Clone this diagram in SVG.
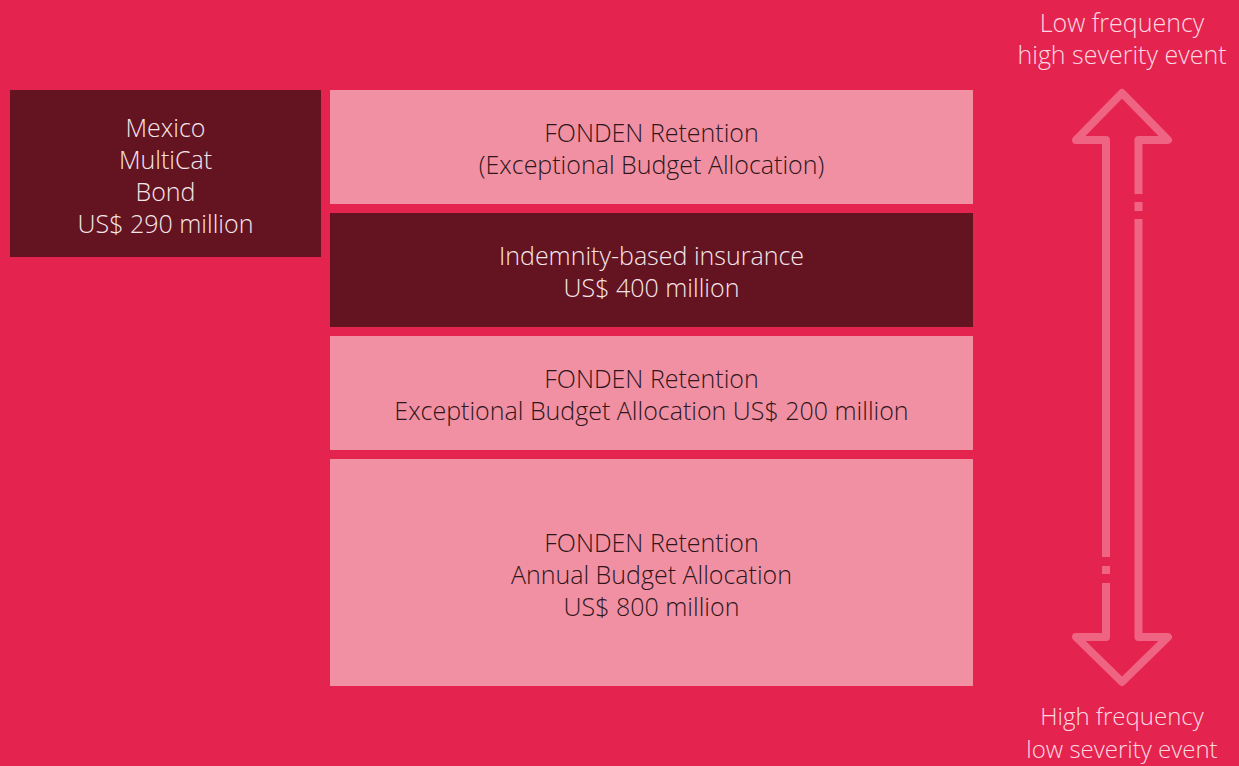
<svg xmlns="http://www.w3.org/2000/svg" width="1239" height="766" viewBox="0 0 1239 766">
<style>
text{font-family:"Open Sans","Liberation Sans",Arial,sans-serif;font-weight:300;font-size:25px;text-anchor:middle}
.light{fill:#f290a3}
.dark{fill:#641321}
.tl{fill:#2e161b}
.td{fill:#f6e6e9}
.th{fill:#fbd9e0}
.sm{font-size:24px}
.arr{fill:none;stroke:#ef6383;stroke-width:8;stroke-linejoin:round;stroke-linecap:round}
.arrs{fill:none;stroke:#ef6383;stroke-width:8}
</style>
<rect width="1239" height="766" fill="#e5234f"/>
<g id="bond">
<rect class="dark" x="10" y="90" width="311" height="167"/>
<text class="td" x="165.5" y="137">Mexico</text>
<text class="td" x="165.5" y="169">MultiCat</text>
<text class="td" x="165.5" y="201">Bond</text>
<text class="td" x="165.5" y="233">US$ 290 million</text>
</g>
<g id="layer1">
<rect class="light" x="330" y="90" width="643" height="114"/>
<text class="tl" x="651.5" y="142">FONDEN Retention</text>
<text class="tl" x="651.5" y="174">(Exceptional Budget Allocation)</text>
</g>
<g id="layer2">
<rect class="dark" x="330" y="213" width="643" height="114"/>
<text class="td" x="651.5" y="265">Indemnity-based insurance</text>
<text class="td" x="651.5" y="297">US$ 400 million</text>
</g>
<g id="layer3">
<rect class="light" x="330" y="336" width="643" height="114"/>
<text class="tl" x="651.5" y="388">FONDEN Retention</text>
<text class="tl" x="651.5" y="420">Exceptional Budget Allocation US$ 200 million</text>
</g>
<g id="layer4">
<rect class="light" x="330" y="459" width="643" height="227"/>
<text class="tl" x="651.5" y="552">FONDEN Retention</text>
<text class="tl" x="651.5" y="584">Annual Budget Allocation</text>
<text class="tl" x="651.5" y="616">US$ 800 million</text>
</g>
<g id="top-label">
<text class="th" x="1122" y="32">Low frequency</text>
<text class="th" x="1122" y="64">high severity event</text>
</g>
<g id="bottom-label">
<text class="th sm" x="1122" y="725">High frequency</text>
<text class="th sm" x="1122" y="758">low severity event</text>
</g>
<g id="connectors">
<path class="arr" d="M1106,140 L1076,140 L1122,93 L1168,140 L1138.5,140"/>
<path class="arr" d="M1106,637 L1076,637 L1122,682 L1168,637 L1138.5,637"/>
<path class="arrs" d="M1106,140 V557 M1106,566 V574 M1106,583 V637"/>
<path class="arrs" d="M1138.5,140 V194 M1138.5,202 V211 M1138.5,219 V637"/>
</g>
</svg>
